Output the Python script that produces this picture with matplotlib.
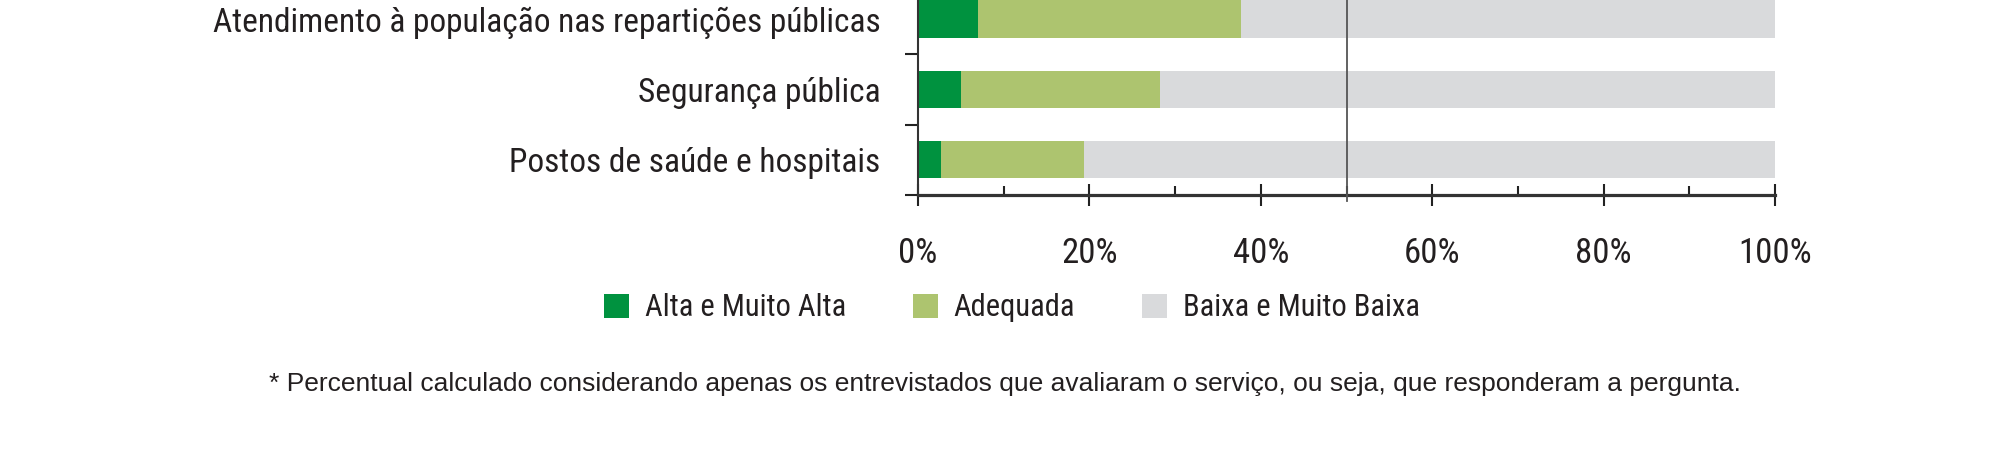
import matplotlib
matplotlib.use("Agg")
import matplotlib.pyplot as plt
from matplotlib import font_manager
from matplotlib.patches import Patch
from matplotlib.ticker import FixedLocator

# ---------------- data ----------------
categories = [
    "Postos de saúde e hospitais",
    "Segurança pública",
    "Atendimento à população nas repartições públicas",
]
alta = [2.7, 5.0, 7.0]          # Alta e Muito Alta
adequada = [16.7, 23.2, 30.7]   # Adequada
baixa = [80.6, 71.8, 62.3]      # Baixa e Muito Baixa
series_names = ["Alta e Muito Alta", "Adequada", "Baixa e Muito Baixa"]
xtick_values = [0, 20, 40, 60, 80, 100]
xtick_labels = ["0%", "20%", "40%", "60%", "80%", "100%"]
note = ("* Percentual calculado considerando apenas os entrevistados que avaliaram "
        "o serviço, ou seja, que responderam a pergunta.")

# ---------------- style ----------------
colors = ["#00923F", "#ADC46F", "#D9DADC"]
text_color = "#231F20"

names = {f.name for f in font_manager.fontManager.ttflist}
narrow = None
for cand in ["Roboto Condensed", "Liberation Sans Narrow", "Open Sans Condensed"]:
    if cand in names:
        narrow = dict(family=cand)
        break
if narrow is None:
    has_dj_cond = any(f.name == "DejaVu Sans" and f.stretch == "condensed"
                      for f in font_manager.fontManager.ttflist)
    narrow = dict(family="DejaVu Sans", stretch="condensed") if has_dj_cond else dict(family="Liberation Sans")
regular = dict(family="Liberation Sans")

W, H = 2004, 449
fig = plt.figure(figsize=(W / 100, H / 100), dpi=100)
ax = fig.add_axes([918 / W, (H - 195) / H, (1775 - 918) / W, 195 / H])

ypos = list(range(len(categories)))
left2 = [a for a in alta]
left3 = [a + b for a, b in zip(alta, adequada)]
bh = 0.53
ax.barh(ypos, alta, height=bh, color=colors[0], edgecolor="none", zorder=2)
ax.barh(ypos, adequada, left=left2, height=bh, color=colors[1], edgecolor="none", zorder=2)
ax.barh(ypos, baixa, left=left3, height=bh, color=colors[2], edgecolor="none", zorder=2)

ax.axvline(50, ymin=-0.03, ymax=1, color="#555555", lw=1.3, zorder=3, clip_on=False)

ax.set_xlim(0, 100)
ax.set_ylim(-0.5, 2.27)

for s in ["top", "right"]:
    ax.spines[s].set_visible(False)
ax.spines["left"].set_linewidth(1.5)
ax.spines["left"].set_color("#333333")
ax.spines["bottom"].set_linewidth(2.3)
ax.spines["bottom"].set_color("#333333")

# x ticks
ax.set_xticks(xtick_values)
ax.set_xticklabels(xtick_labels, color=text_color, fontsize=25, **narrow)
ax.xaxis.set_minor_locator(FixedLocator([10, 30, 50, 70, 90]))
ax.tick_params(axis="x", which="major", direction="inout", length=16.5, width=1.5,
               color="#222222", pad=22)
ax.tick_params(axis="x", which="minor", direction="in", length=6.5, width=1.5,
               color="#222222")

# y ticks: labels at centers, ticks at boundaries
ax.set_yticks(ypos)
ax.set_yticklabels(categories, color=text_color, fontsize=24, **narrow)
ax.yaxis.set_minor_locator(FixedLocator([-0.5, 0.5, 1.5]))
ax.tick_params(axis="y", which="major", length=0, pad=27)
ax.tick_params(axis="y", which="minor", direction="out", length=9.5, width=1.5,
               color="#222222")

handles = [Patch(facecolor=c, edgecolor="none") for c in colors]
leg = fig.legend(handles, series_names, ncol=3, loc="center",
                 bbox_to_anchor=(1012 / W, (H - 308) / H), frameon=False,
                 handlelength=0.82, handleheight=0.82, handletextpad=0.5,
                 columnspacing=2.2, prop=dict(size=22, **narrow))
for t in leg.get_texts():
    t.set_color(text_color)

fig.text(1005 / W, (H - 384) / H, note, ha="center", va="center",
         color=text_color, fontsize=19, **regular)

fig.savefig("out.png", dpi=100, facecolor="white")
